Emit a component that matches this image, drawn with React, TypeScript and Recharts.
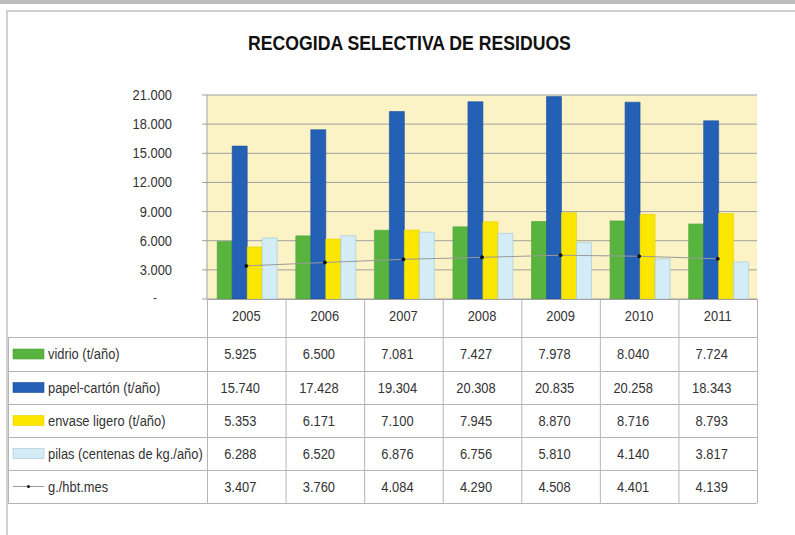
import React from "react";
import { ComposedChart, Bar, Line, XAxis, YAxis, CartesianGrid } from "recharts";

const years = ["2005", "2006", "2007", "2008", "2009", "2010", "2011"];
const vidrio = [5925, 6500, 7081, 7427, 7978, 8040, 7724];
const papel = [15740, 17428, 19304, 20308, 20835, 20258, 18343];
const envase = [5353, 6171, 7100, 7945, 8870, 8716, 8793];
const pilas = [6288, 6520, 6876, 6756, 5810, 4140, 3817];
const ghbt = [3407, 3760, 4084, 4290, 4508, 4401, 4139];
const yTicks = [0, 3000, 6000, 9000, 12000, 15000, 18000, 21000];

const seriesInfo = [
  { key: "vidrio", label: "vidrio (t/año)", values: vidrio, fill: "#58B43E", stroke: "#4EA236" },
  { key: "papel", label: "papel-cartón (t/año)", values: papel, fill: "#2360B6", stroke: "#1C4F9C" },
  { key: "envase", label: "envase ligero (t/año)", values: envase, fill: "#FAE600", stroke: "#E8D400" },
  { key: "pilas", label: "pilas (centenas de kg./año)", values: pilas, fill: "#D3ECF6", stroke: "#9FC6D6" },
];

const data = years.map((y, i) => ({
  year: y,
  vidrio: vidrio[i],
  papel: papel[i],
  envase: envase[i],
  pilas: pilas[i],
  ghbt: ghbt[i],
}));

const fmt = (v: number) => {
  if (v === 0) return "-";
  const s = String(v);
  return s.length > 3 ? s.slice(0, s.length - 3) + "." + s.slice(s.length - 3) : s;
};

const FONT = "'Liberation Sans', Arial, sans-serif";
const SX = 0.86;

const NText = ({ x, y, anchor = "start", size = 15, children }: any) => (
  <g transform={`translate(${x},${y}) scale(${SX},1)`}>
    <text x={0} y={0} textAnchor={anchor} fontSize={size} fill="#333" fontFamily={FONT}>
      {children}
    </text>
  </g>
);

const YTick = (props: any) => {
  const { y, payload } = props;
  const v = payload.value as number;
  if (v === 0) {
    return <NText x={155} y={y + 3} anchor="middle" size={13}>-</NText>;
  }
  return <NText x={172} y={y + 5} anchor="end" size={15}>{fmt(v)}</NText>;
};

const PLOT_L = 207;
const PLOT_R = 757;
const PLOT_T = 95;
const PLOT_B = 299;
const colW = (PLOT_R - PLOT_L) / years.length;
const ROW_Y = [337, 371, 404, 437, 470, 503];

export default function App() {
  return (
    <div style={{ position: "absolute", left: 0, top: 0, width: 795, height: 535, background: "#fff", overflow: "hidden", fontFamily: FONT }}>
      <div style={{ position: "absolute", left: 0, top: 0, width: 795, height: 4, background: "#bdbdbd" }} />
      <div style={{ position: "absolute", left: 6, top: 10, width: 800, height: 540, borderLeft: "2px solid #d0d0d0", borderTop: "2px solid #d0d0d0" }} />
      <div
        style={{
          position: "absolute",
          left: 12,
          top: 31,
          width: 795,
          textAlign: "center",
          fontSize: 21,
          fontWeight: "bold",
          color: "#111",
          fontFamily: FONT,
          transform: "scaleX(0.84)",
          transformOrigin: "center",
        }}
      >
        RECOGIDA SELECTIVA DE RESIDUOS
      </div>
      <div style={{ position: "absolute", left: 0, top: 0 }}>
        <ComposedChart
          width={795}
          height={535}
          data={data}
          margin={{ top: PLOT_T, right: 795 - PLOT_R, bottom: 535 - PLOT_B, left: PLOT_L - 60 }}
          barCategoryGap="13%"
          barGap={0}
        >
          <CartesianGrid vertical={false} stroke="#a0a0a0" fill="#FBF3C6" strokeWidth={1} />
          <XAxis dataKey="year" hide />
          <YAxis
            width={60}
            domain={[0, 21000]}
            ticks={yTicks}
            interval={0}
            tick={<YTick />}
            tickLine={{ stroke: "#a0a0a0" }}
            tickSize={5}
            axisLine={{ stroke: "#a0a0a0" }}
          />
          {seriesInfo.map((s) => (
            <Bar key={s.key} dataKey={s.key} fill={s.fill} stroke={s.stroke} strokeWidth={0.6} isAnimationActive={false} />
          ))}
          <Line
            dataKey="ghbt"
            stroke="#9a9a9a"
            strokeWidth={1}
            dot={{ r: 1.5, fill: "#111", stroke: "#111" }}
            isAnimationActive={false}
          />
        </ComposedChart>
      </div>
      <svg style={{ position: "absolute", left: 0, top: 0 }} width={795} height={535}>
        <defs>
          <clipPath id="labelClip">
            <rect x={8} y={ROW_Y[0]} width={PLOT_L - 8} height={ROW_Y[5] - ROW_Y[0]} />
          </clipPath>
        </defs>
        {ROW_Y.map((y, i) => (
          <line key={"h" + i} x1={8} x2={PLOT_R} y1={y + 0.5} y2={y + 0.5} stroke="#b5b5b5" strokeWidth={1} />
        ))}
        <line x1={PLOT_L} x2={PLOT_R} y1={PLOT_B + 0.5} y2={PLOT_B + 0.5} stroke="#a0a0a0" strokeWidth={1} />
        <line x1={8.5} x2={8.5} y1={ROW_Y[0]} y2={ROW_Y[5]} stroke="#b5b5b5" />
        {years.map((_, i) => (
          <line key={"v" + i} x1={PLOT_L + i * colW + 0.5} x2={PLOT_L + i * colW + 0.5} y1={PLOT_B} y2={ROW_Y[5]} stroke="#b5b5b5" />
        ))}
        <line x1={PLOT_R + 0.5} x2={PLOT_R + 0.5} y1={PLOT_B} y2={ROW_Y[5]} stroke="#b5b5b5" />
        {years.map((y, i) => (
          <NText key={"y" + i} x={PLOT_L + (i + 0.5) * colW} y={321} anchor="middle">
            {y}
          </NText>
        ))}
        {seriesInfo.map((s, r) => {
          const cy = (ROW_Y[r] + ROW_Y[r + 1]) / 2;
          return (
            <g key={s.key}>
              <rect x={13} y={cy - 5} width={31} height={10} fill={s.fill} stroke={s.stroke} strokeWidth={0.6} />
              <g clipPath="url(#labelClip)">
                <NText x={48} y={cy + 5}>{s.label}</NText>
              </g>
              {s.values.map((v, i) => (
                <NText key={i} x={PLOT_L + (i + 0.5) * colW - 6} y={cy + 5} anchor="middle">
                  {fmt(v)}
                </NText>
              ))}
            </g>
          );
        })}
        {(() => {
          const cy = (ROW_Y[4] + ROW_Y[5]) / 2;
          return (
            <g>
              <line x1={13} x2={44} y1={cy} y2={cy} stroke="#9a9a9a" strokeWidth={1} />
              <circle cx={28.5} cy={cy} r={1.5} fill="#111" />
              <NText x={48} y={cy + 5}>g./hbt.mes</NText>
              {ghbt.map((v, i) => (
                <NText key={i} x={PLOT_L + (i + 0.5) * colW - 6} y={cy + 5} anchor="middle">
                  {fmt(v)}
                </NText>
              ))}
            </g>
          );
        })()}
      </svg>
    </div>
  );
}
